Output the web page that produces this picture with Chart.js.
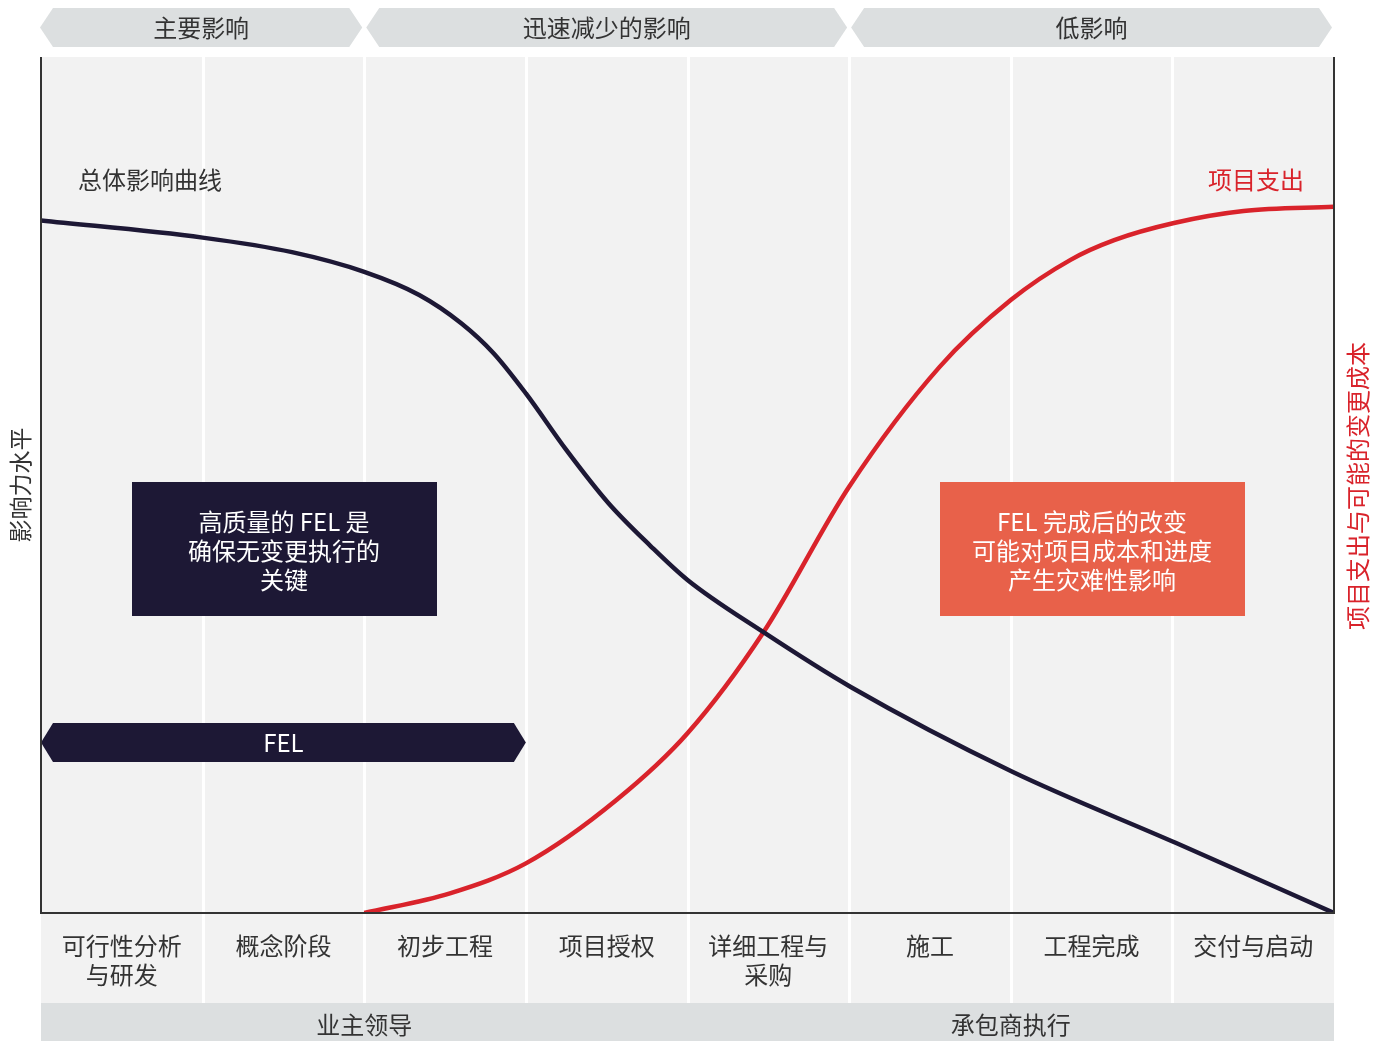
<!DOCTYPE html>
<html>
<head>
<meta charset="utf-8">
<script src="https://cdn.jsdelivr.net/npm/chart.js@4/dist/chart.umd.min.js"></script>
<style>
  html, body { margin: 0; padding: 0; background: #fff; }
  #wrap { width: 1386px; height: 1041px; }
</style>
</head>
<body>
<div id="wrap"><canvas id="chart" width="1386" height="1041"></canvas></div>
<script>
// phases along the top, stages along the bottom, owners below them
const phaseLabels = ['主要影响', '迅速减少的影响', '低影响'];
const phaseBounds = [0, 2, 5, 8];
const stageLabels = [
  ['可行性分析', '与研发'], ['概念阶段'], ['初步工程'], ['项目授权'],
  ['详细工程与', '采购'], ['施工'], ['工程完成'], ['交付与启动']
];
const ownerLabels = ['业主领导', '承包商执行'];
const ownerBounds = [0, 4, 8];

// overall impact curve (x in stage units, y = impact level 0..100)
const impactX = [0, 1, 1.553, 2, 2.34, 2.6, 2.8, 3, 3.25, 3.51, 3.77, 4, 4.47, 5.01, 6.01, 7.02, 8];
const impactY = [80.9, 78.9, 77.2, 74.9, 72.2, 68.9, 65.4, 60.7, 54.1, 47.9, 42.9, 38.9, 32.8, 26.4, 16.5, 8.2, 0];

// project spend curve
const spendX = [2, 2.53, 3, 3.56, 4, 4.47, 5, 5.56, 6, 6.37, 6.64, 7.01, 7.44, 8];
const spendY = [0, 2.3, 5.8, 13.2, 21.0, 32.8, 49.8, 63.8, 71.6, 76.3, 78.6, 80.6, 82.0, 82.5];

const DARK = '#1d1835';
const RED = '#d9232b';
const ORANGE = '#e8614a';
const GREY_BAND = '#dcdfe0';
const PLOT_BG = '#f2f2f2';
const TEXT = '#333333';
const FONT = '"Noto Sans CJK SC", "Noto Sans", sans-serif';

const pts = (xs, ys) => xs.map((x, i) => ({ x, y: ys[i] }));

function text(ctx, str, x, y, { color = TEXT, align = 'center', size = 24 } = {}) {
  ctx.fillStyle = color;
  ctx.font = `${size}px ${FONT}`;
  ctx.textAlign = align;
  ctx.textBaseline = 'middle';
  ctx.fillText(str, x, y);
}

function hexBar(ctx, x0, x1, y0, y1, tip, color) {
  const ym = (y0 + y1) / 2;
  ctx.beginPath();
  ctx.moveTo(x0, ym);
  ctx.lineTo(x0 + tip, y0);
  ctx.lineTo(x1 - tip, y0);
  ctx.lineTo(x1, ym);
  ctx.lineTo(x1 - tip, y1);
  ctx.lineTo(x0 + tip, y1);
  ctx.closePath();
  ctx.fillStyle = color;
  ctx.fill();
}

const backdrop = {
  id: 'backdrop',
  beforeDatasetsDraw(chart) {
    const { ctx, chartArea: a, scales: { x } } = chart;
    ctx.save();
    // plot + label area background
    ctx.fillStyle = PLOT_BG;
    ctx.fillRect(a.left, a.top, a.right - a.left, 1003 - a.top);
    // white column separators
    ctx.strokeStyle = '#ffffff';
    ctx.lineWidth = 3;
    for (let i = 1; i < 8; i++) {
      const px = Math.round(x.getPixelForValue(i)) + 0.5;
      ctx.beginPath();
      ctx.moveTo(px, a.top);
      ctx.lineTo(px, 1003);
      ctx.stroke();
    }
    // top phase banners
    phaseLabels.forEach((lab, i) => {
      const x0 = x.getPixelForValue(phaseBounds[i]) + (i ? 2 : -1);
      const x1 = x.getPixelForValue(phaseBounds[i + 1]) - 2;
      hexBar(ctx, x0, x1, 8, 47, 13, GREY_BAND);
      text(ctx, lab, (x0 + x1) / 2, 28);
    });
    // bottom owner band
    ctx.fillStyle = GREY_BAND;
    ctx.fillRect(a.left, 1003, a.right - a.left, 38);
    ownerLabels.forEach((lab, i) => {
      const cx = (x.getPixelForValue(ownerBounds[i]) + x.getPixelForValue(ownerBounds[i + 1])) / 2;
      text(ctx, lab, cx, 1025);
    });
    // stage labels
    stageLabels.forEach((lines, i) => {
      const cx = x.getPixelForValue(i + 0.5);
      lines.forEach((ln, j) => text(ctx, ln, cx, 946 + j * 29));
    });
    // message boxes
    ctx.fillStyle = DARK;
    ctx.fillRect(132, 482, 305, 134);
    ['高质量的 FEL 是', '确保无变更执行的', '关键'].forEach((ln, j) => text(ctx, ln, 284, 522 + j * 29, { color: '#fff' }));
    ctx.fillStyle = ORANGE;
    ctx.fillRect(940, 482, 305, 134);
    ['FEL 完成后的改变', '可能对项目成本和进度', '产生灾难性影响'].forEach((ln, j) => text(ctx, ln, 1092, 522 + j * 29, { color: '#fff' }));
    // FEL arrow bar
    hexBar(ctx, x.getPixelForValue(0), x.getPixelForValue(3), 723, 762, 12, DARK);
    text(ctx, 'FEL', x.getPixelForValue(1.5), 743, { color: '#fff' });
    // curve labels
    text(ctx, '总体影响曲线', 78, 180, { align: 'left' });
    text(ctx, '项目支出', 1304, 180, { align: 'right', color: RED });
    // axis titles
    ctx.save();
    ctx.translate(20, 485);
    ctx.rotate(-Math.PI / 2);
    text(ctx, '影响力水平', 0, 0, { size: 23 });
    ctx.restore();
    ctx.save();
    ctx.translate(1358, 486);
    ctx.rotate(-Math.PI / 2);
    text(ctx, '项目支出与可能的变更成本', 0, 0, { color: RED });
    ctx.restore();
    ctx.restore();
  },
  afterDatasetsDraw(chart) {
    const { ctx, chartArea: a } = chart;
    ctx.save();
    ctx.strokeStyle = '#333';
    ctx.lineWidth = 2;
    ctx.beginPath();
    ctx.moveTo(a.left, a.top);
    ctx.lineTo(a.left, a.bottom);
    ctx.lineTo(a.right, a.bottom);
    ctx.lineTo(a.right, a.top);
    ctx.stroke();
    ctx.restore();
  }
};

new Chart(document.getElementById('chart'), {
  type: 'line',
  data: {
    datasets: [
      { label: '总体影响曲线', data: pts(impactX, impactY), borderColor: DARK, borderWidth: 4.5 },
      { label: '项目支出', data: pts(spendX, spendY), borderColor: RED, borderWidth: 4.5 }
    ]
  },
  options: {
    responsive: false,
    animation: false,
    layout: { padding: { left: 41, right: 52, top: 57, bottom: 128 } },
    elements: { point: { radius: 0 }, line: { cubicInterpolationMode: 'monotone', fill: false } },
    plugins: { legend: { display: false }, tooltip: { enabled: false } },
    scales: {
      x: { type: 'linear', min: 0, max: 8, display: false },
      y: { min: 0, max: 100, display: false }
    }
  },
  plugins: [backdrop]
});
</script>
</body>
</html>
